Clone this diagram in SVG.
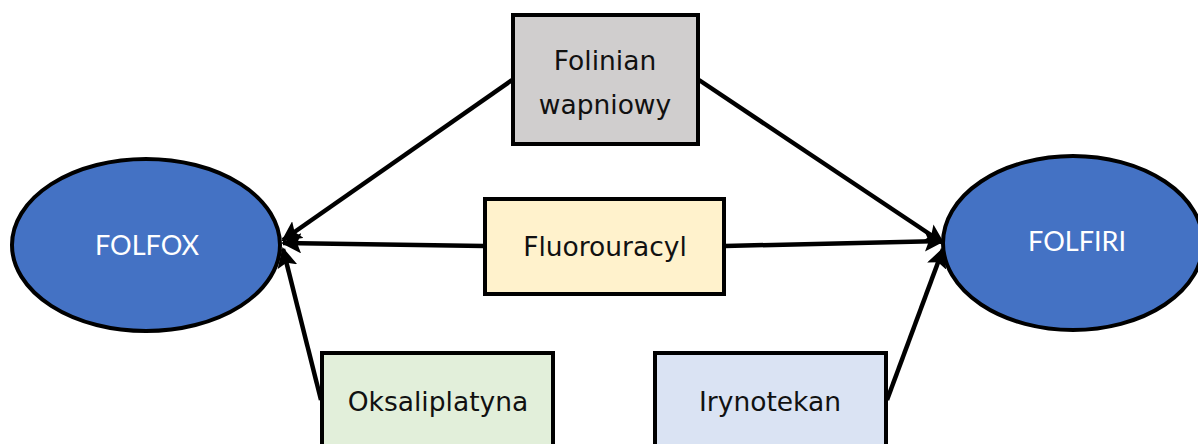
<svg xmlns="http://www.w3.org/2000/svg" width="1198" height="444" viewBox="0 0 1198 444">
<style>
.box{stroke:#000;stroke-width:4}
.t{font-family:"DejaVu Sans",Verdana,sans-serif;font-size:26.5px;fill:#111;text-anchor:middle}
.e{fill:#4472c4;stroke:#000;stroke-width:4}
.et{font-family:Lato,"Liberation Sans",sans-serif;font-size:27px;fill:#fff;text-anchor:middle}
.c{stroke:#000;stroke-width:4.5;fill:none;marker-end:url(#ah)}
</style>
<defs>
<marker id="ah" viewBox="0 0 10 10" refX="9" refY="5" markerWidth="4.5" markerHeight="4.5" orient="auto" markerUnits="strokeWidth">
<path d="M0,0 L10,5 L0,10 L2,5 z" fill="#000"/>
</marker>
</defs>
<g id="connectors">
<line class="c" x1="512" y1="80" x2="283" y2="240"/>
<line class="c" x1="484" y1="246" x2="283" y2="243"/>
<line class="c" x1="321" y1="400" x2="283" y2="249"/>
<line class="c" x1="699" y1="80" x2="943" y2="243"/>
<line class="c" x1="725" y1="246" x2="943" y2="241"/>
<line class="c" x1="887" y1="400" x2="943" y2="249"/>
</g>
<g id="folfox">
<ellipse class="e" cx="146" cy="245" rx="134" ry="86"/>
<text class="et" x="147" y="255">FOLFOX</text>
</g>
<g id="folfiri">
<ellipse class="e" cx="1073" cy="243" rx="130" ry="87"/>
<text class="et" x="1077" y="251">FOLFIRI</text>
</g>
<g id="folinian">
<rect class="box" x="513" y="15" width="185" height="129" fill="#d0cece"/>
<text class="t" x="605" y="70">Folinian</text>
<text class="t" x="605" y="114">wapniowy</text>
</g>
<g id="fluorouracyl">
<rect class="box" x="485" y="199" width="239" height="95" fill="#fff2cc"/>
<text class="t" x="605" y="256">Fluorouracyl</text>
</g>
<g id="oksaliplatyna">
<rect class="box" x="322" y="353" width="231" height="100" fill="#e2efda"/>
<text class="t" x="438" y="411">Oksaliplatyna</text>
</g>
<g id="irynotekan">
<rect class="box" x="655" y="353" width="231" height="100" fill="#dae3f3"/>
<text class="t" x="770" y="411">Irynotekan</text>
</g>
</svg>
